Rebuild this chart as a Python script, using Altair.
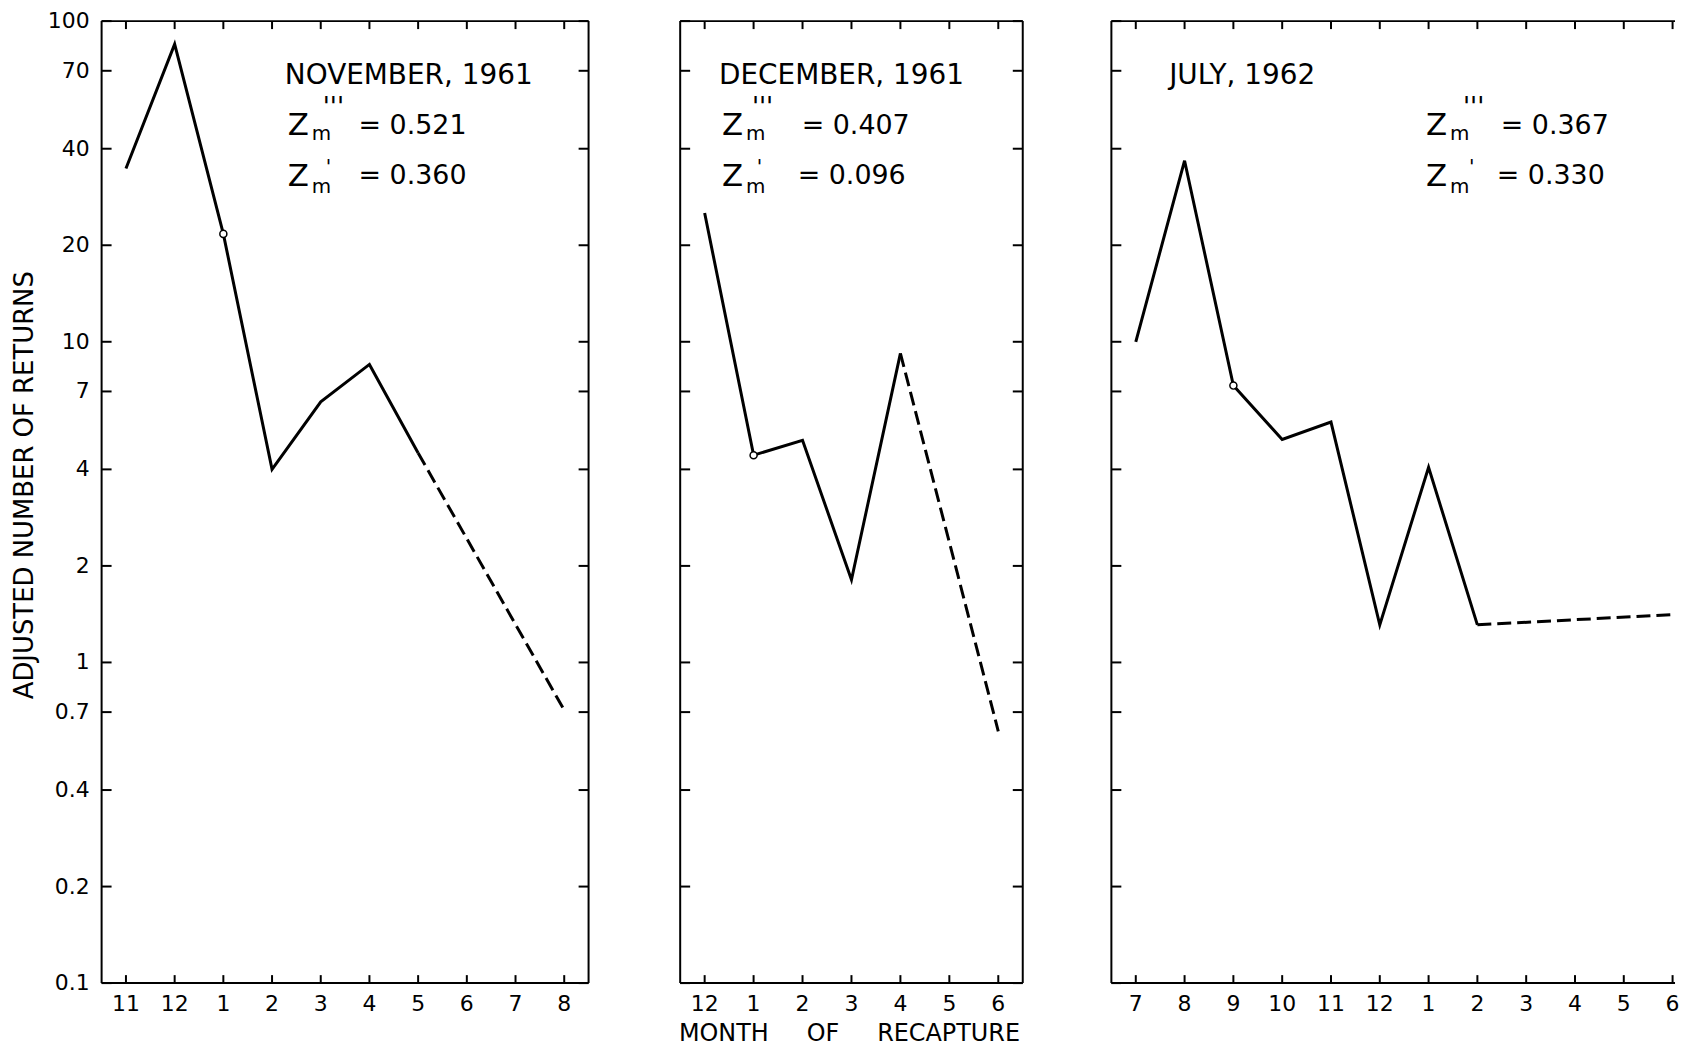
import altair as alt
import pandas as pd

FONT = "DejaVu Sans"
Y_TICKS = [0.1, 0.2, 0.4, 0.7, 1, 2, 4, 7, 10, 20, 40, 70, 100]
Y_LABELS = ["0.1", "0.2", "0.4", "0.7", "1", "2", "4", "7", "10", "20", "40", "70", "100"]
Y_TITLE = "ADJUSTED NUMBER OF RETURNS"
X_TITLE = "MONTH\u00a0\u00a0\u00a0\u00a0\u00a0OF\u00a0\u00a0\u00a0\u00a0\u00a0RECAPTURE"
H = 966

# ---- Panel 1: November 1961 ----
nov_months = ["11", "12", "1", "2", "3", "4", "5", "6", "7", "8"]
nov_solid = [34.7, 84.8, 21.7, 4.0, 6.5, 8.5, 4.5]          # months 11 .. 5
nov_dashed_months = ["5", "8"]
nov_dashed = [4.5, 0.71]
nov_open = "1"
nov_texts = ["NOVEMBER, 1961", "= 0.521", "= 0.360"]

# ---- Panel 2: December 1961 ----
dec_months = ["12", "1", "2", "3", "4", "5", "6"]
dec_solid = [25.2, 4.43, 4.93, 1.81, 9.2]                   # months 12 .. 4
dec_dashed_months = ["4", "6"]
dec_dashed = [9.2, 0.61]
dec_open = "1"
dec_texts = ["DECEMBER, 1961", "= 0.407", "= 0.096"]

# ---- Panel 3: July 1962 ----
jul_months = ["7", "8", "9", "10", "11", "12", "1", "2", "3", "4", "5", "6"]
jul_solid = [10.0, 36.7, 7.3, 4.96, 5.62, 1.31, 4.06, 1.31]  # months 7 .. 2
jul_dashed_months = ["2", "6"]
jul_dashed = [1.31, 1.41]
jul_open = "9"
jul_texts = ["JULY, 1962", "= 0.367", "= 0.330"]


def one():
    return alt.Data(values=[{}])


def txt(s, x, y, size, **kw):
    props = dict(text=s, align="left", baseline="alphabetic", font=FONT,
                 fontSize=size, color="black")
    props.update(kw)
    return alt.Chart(one()).mark_text(**props).encode(x=alt.value(x), y=alt.value(y))


def hrule(x0, x1, y):
    return alt.Chart(one()).mark_rule(color="black", strokeWidth=2).encode(
        x=alt.value(x0), x2=alt.value(x1), y=alt.value(y))


def vrule(x, y0, y1):
    return alt.Chart(one()).mark_rule(color="black", strokeWidth=2).encode(
        x=alt.value(x), y=alt.value(y0), y2=alt.value(y1))


def panel(months, solid, dashed_months, dashed, open_month, texts, width, x_hi,
          pos, y_axis=False, x_title=False, right_side=True):
    n = len(months)
    xs = alt.Scale(domain=[-0.5, x_hi], nice=False, zero=False)
    ys = alt.Scale(type="log", domain=[0.1, 100], nice=False)

    solid_df = pd.DataFrame({"i": list(range(len(solid))), "v": solid})
    dash_df = pd.DataFrame({"i": [months.index(m) for m in dashed_months], "v": dashed})
    oi = months.index(open_month)
    open_df = pd.DataFrame({"i": [oi], "v": [solid[oi]]})
    xt_df = pd.DataFrame({"t": list(range(n)), "lab": months})
    yt_df = pd.DataFrame({"t": Y_TICKS, "lab": Y_LABELS})

    X = lambda f: alt.X(f, scale=xs, axis=None)
    Y = lambda f: alt.Y(f, scale=ys, axis=None)

    layers = [
        alt.Chart(solid_df).mark_line(color="black", strokeWidth=3).encode(
            x=X("i:Q"), y=Y("v:Q")),
        alt.Chart(dash_df).mark_line(color="black", strokeWidth=3,
                                     strokeDash=[14, 6]).encode(
            x=X("i:Q"), y=Y("v:Q")),
        alt.Chart(open_df).mark_point(
            shape="circle", filled=True, fill="white", stroke="black",
            strokeWidth=1.5, size=50, opacity=1).encode(x=X("i:Q"), y=Y("v:Q")),
        # inward month ticks, bottom and top
        alt.Chart(xt_df).mark_rule(color="black", strokeWidth=2).encode(
            x=X("t:Q"), y=alt.value(H), y2=alt.value(H - 8)),
        alt.Chart(xt_df).mark_rule(color="black", strokeWidth=2).encode(
            x=X("t:Q"), y=alt.value(0), y2=alt.value(8)),
        # month labels
        alt.Chart(xt_df).mark_text(font=FONT, fontSize=22, color="black",
                                   align="center", baseline="top").encode(
            x=X("t:Q"), y=alt.value(H + 11), text="lab:N"),
        # inward value ticks, left
        alt.Chart(yt_df).mark_rule(color="black", strokeWidth=2).encode(
            y=Y("t:Q"), x=alt.value(0), x2=alt.value(10)),
        hrule(0, width, 0),
        hrule(0, width, H),
        vrule(0, 0, H),
    ]
    if right_side:
        layers.append(alt.Chart(yt_df).mark_rule(color="black", strokeWidth=2).encode(
            y=Y("t:Q"), x=alt.value(width - 10), x2=alt.value(width)))
        layers.append(vrule(width, 0, H))
    if y_axis:
        layers.append(alt.Chart(yt_df).mark_text(font=FONT, fontSize=22, color="black",
                                                 align="right", baseline="middle").encode(
            y=Y("t:Q"), x=alt.value(-12), text="lab:N"))
        layers.append(txt(Y_TITLE, -77, 466, 26, angle=270, align="center",
                          baseline="middle"))
    if x_title:
        layers.append(txt(X_TITLE, 170, H + 51, 24, align="center", baseline="middle"))

    # annotations
    tx, zx, p1x, p2x, e1x, e2x = pos
    layers += [
        txt(texts[0], tx, 63, 28),
        txt("Z", zx, 114, 31),
        txt("m", zx + 24, 119, 20),
        txt("'''", p1x, 95, 26),
        txt(texts[1], e1x, 113, 27),
        txt("Z", zx, 166, 31),
        txt("m", zx + 24, 173, 20),
        txt("'", p2x, 153, 20),
        txt(texts[2], e2x, 164, 27),
    ]
    return alt.layer(*layers).properties(width=width, height=H)


p1 = panel(nov_months, nov_solid, nov_dashed_months, nov_dashed, nov_open, nov_texts,
           489, 9.5, (184, 187, 222, 225, 258, 258), y_axis=True)
p2 = panel(dec_months, dec_solid, dec_dashed_months, dec_dashed, dec_open, dec_texts,
           344, 6.5, (39, 42, 72, 77, 122, 118), x_title=True)
p3 = panel(jul_months, jul_solid, jul_dashed_months, jul_dashed, jul_open, jul_texts,
           566, 11.05, (58, 316, 353, 359, 391, 387), right_side=False)

chart = alt.hconcat(p1, alt.hconcat(p2, p3, spacing=87), spacing=89).properties(
    padding={"left": 4, "top": 0, "right": 0, "bottom": 0},
    background="white",
).configure_view(stroke=None)

chart.save("out.html", embed_options={"renderer": "svg", "actions": False})
